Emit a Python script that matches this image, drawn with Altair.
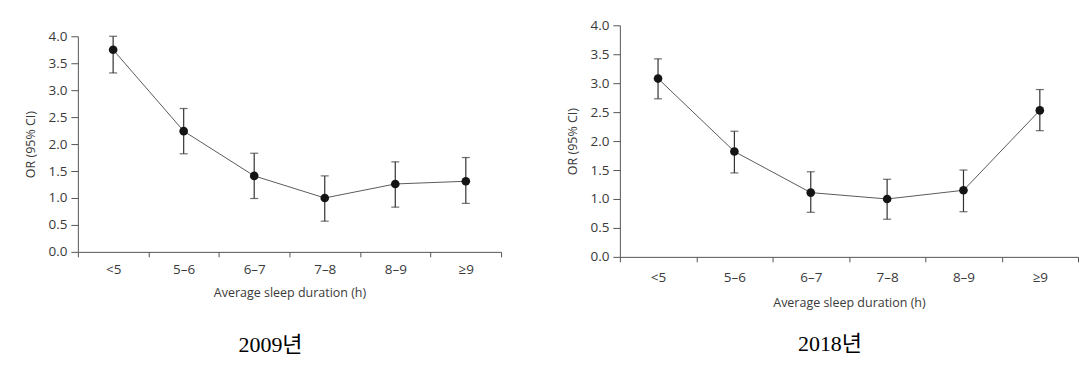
import altair as alt
import pandas as pd

categories = ["<5", "5–6", "6–7", "7–8", "8–9", "≥9"]
y_ticks = [0.0, 0.5, 1.0, 1.5, 2.0, 2.5, 3.0, 3.5, 4.0]

or_2009 = [3.75, 2.24, 1.41, 1.00, 1.26, 1.31]
lo_2009 = [3.32, 1.82, 0.99, 0.57, 0.83, 0.90]
hi_2009 = [4.00, 2.66, 1.83, 1.41, 1.67, 1.75]

or_2018 = [3.08, 1.82, 1.11, 1.00, 1.15, 2.53]
lo_2018 = [2.73, 1.45, 0.77, 0.65, 0.78, 2.18]
hi_2018 = [3.42, 2.17, 1.47, 1.34, 1.50, 2.89]

FONT = "Open Sans"
TXT = "#3a3a3a"
AX = "#555555"


def panel(or_, lo, hi, title, w, h, y_top, label_pad, title_pad, t_offset, t_dx):
    df = pd.DataFrame({"cat": categories, "or": or_, "lo": lo, "hi": hi})
    xs = alt.Scale(type="band", paddingInner=0, paddingOuter=0)
    ys = alt.Scale(domain=[0, 4], nice=False, zero=True, range=[h, y_top])
    x = alt.X(
        "cat:N",
        sort=categories,
        scale=xs,
        axis=alt.Axis(
            title="Average sleep duration (h)",
            labelAngle=0,
            tickBand="extent",
            tickSize=5,
            labelPadding=label_pad,
            titlePadding=title_pad,
            grid=False,
        ),
    )
    y_axis = alt.Axis(
        title="OR (95% CI)",
        values=y_ticks,
        format=".1f",
        tickSize=7,
        labelPadding=4,
        titlePadding=10,
        labelOverlap=False,
        grid=False,
    )
    base = alt.Chart(df)
    line = base.mark_line(color="#5a5a5a", strokeWidth=1).encode(
        x=x, y=alt.Y("or:Q", scale=ys, axis=y_axis)
    )
    rule = base.mark_rule(color="#333333", strokeWidth=1.2).encode(
        x=x, y=alt.Y("lo:Q", scale=ys, axis=y_axis), y2="hi:Q"
    )
    cap_lo = base.mark_tick(color="#333333", size=8, thickness=1.2).encode(
        x=x, y=alt.Y("lo:Q", scale=ys, axis=y_axis)
    )
    cap_hi = base.mark_tick(color="#333333", size=8, thickness=1.2).encode(
        x=x, y=alt.Y("hi:Q", scale=ys, axis=y_axis)
    )
    pts = base.mark_point(filled=True, size=75, color="#151515", opacity=1).encode(
        x=x, y=alt.Y("or:Q", scale=ys, axis=y_axis)
    )
    return alt.layer(line, rule, cap_lo, cap_hi, pts).properties(
        width=w,
        height=h,
        title=alt.TitleParams(
            title,
            orient="bottom",
            anchor="middle",
            font="Liberation Serif, Noto Sans CJK KR",
            fontSize=22,
            fontWeight="normal",
            color="#000000",
            offset=t_offset,
            dx=t_dx,
        ),
    )


left = panel(or_2009, lo_2009, hi_2009, "2009년", 424, 227, 11, 6, 10, 36, -19)
right = panel(or_2018, lo_2018, hi_2018, "2018년", 459, 232, 0, 9, 12, 25, -19)

chart = (
    alt.hconcat(left, right, spacing=65)
    .properties(padding={"left": 17, "top": 10, "right": 5, "bottom": 5})
    .configure_view(stroke=None)
    .configure_axis(
        labelFont=FONT,
        titleFont=FONT,
        labelFontSize=13.5,
        titleFontSize=12.5,
        titleFontWeight="normal",
        labelColor=TXT,
        titleColor=TXT,
        domainColor=AX,
        tickColor=AX,
        domainWidth=1,
        tickWidth=1,
    )
)

chart.save("out.html", embed_options={"renderer": "svg", "actions": False})
